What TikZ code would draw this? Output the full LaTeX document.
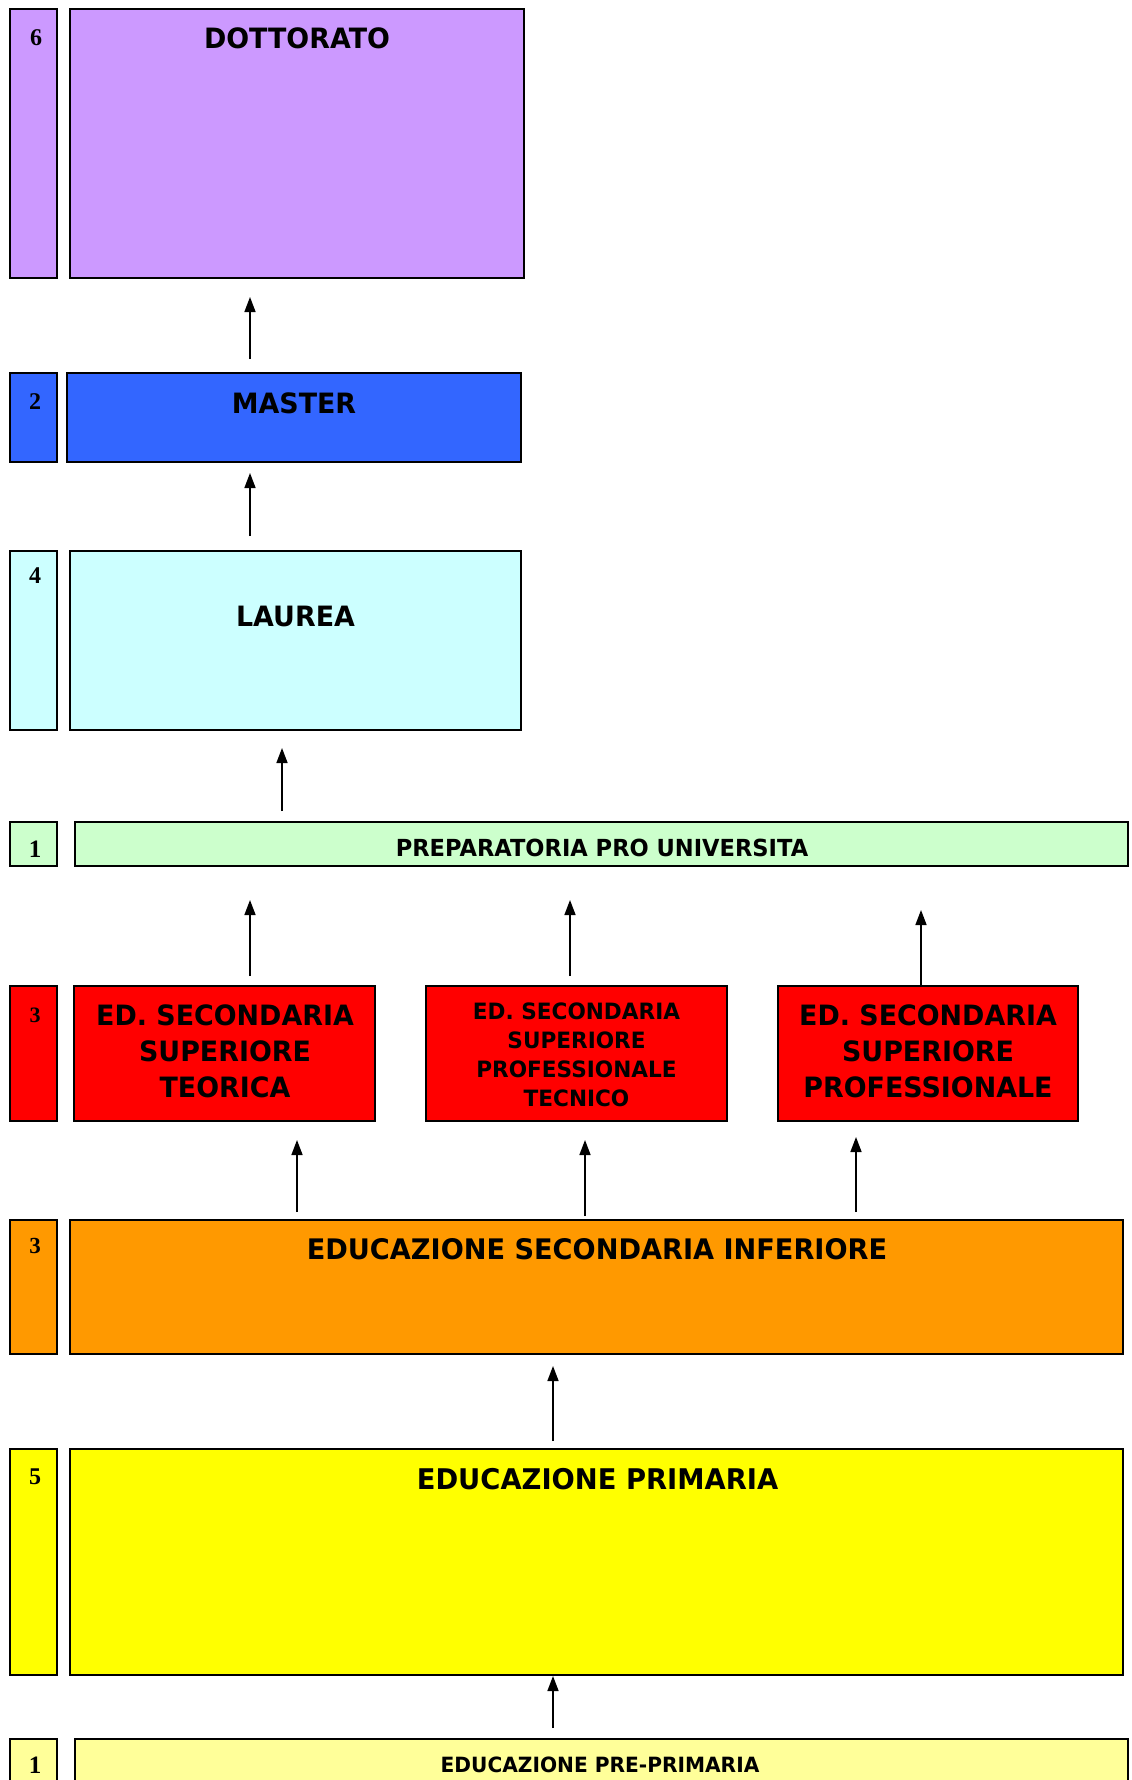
\documentclass[tikz,border=0pt]{standalone}
\usepackage{fontspec}
\setmainfont{DejaVu Sans}[FakeStretch=0.96]
\newfontfamily\numfont{Liberation Serif}
\usetikzlibrary{arrows.meta}
\definecolor{cdott}{HTML}{CC99FF}
\definecolor{cmast}{HTML}{3366FF}
\definecolor{claur}{HTML}{CCFFFF}
\definecolor{cprep}{HTML}{CCFFCC}
\definecolor{cred}{HTML}{FF0000}
\definecolor{cinf}{HTML}{FF9900}
\definecolor{cprim}{HTML}{FFFF00}
\definecolor{cpre}{HTML}{FFFF99}
\begin{document}
\begin{tikzpicture}[x=1pt,y=-1pt,
  box/.style={draw=black, line width=2pt, outer sep=0pt, inner sep=0pt, anchor=north west},
  arr/.style={-{Triangle[length=15pt,width=11pt]}, line width=1.5pt},
  head/.style={font=\fontsize{28}{36}\selectfont\bfseries, anchor=base, inner sep=0pt},
  headml/.style={font=\fontsize{28}{36}\selectfont\bfseries, align=center, inner sep=0pt},
  headsm/.style={font=\fontsize{22.5}{29}\selectfont\bfseries, align=center, inner sep=0pt},
  numb/.style={font=\numfont\bfseries\fontsize{24}{24}\selectfont, anchor=base, inner sep=0pt}
]
\fill[white] (0,0) rectangle (1132,1780);
\useasboundingbox (0,0) rectangle (1132,1780);

% column coordinates for arrows
\coordinate (cA) at (250,0);
\coordinate (cB) at (282,0);
\coordinate (cC) at (570,0);
\coordinate (cD) at (921,0);
\coordinate (cE) at (297,0);
\coordinate (cF) at (585,0);
\coordinate (cG) at (856,0);
\coordinate (cH) at (553,0);

% left duration boxes
\node[box, fill=cdott, minimum width=47pt, minimum height=269pt] (y6) at (10,9) {};
\node[box, fill=cmast, minimum width=47pt, minimum height=89pt] (y2) at (10,373) {};
\node[box, fill=claur, minimum width=47pt, minimum height=179pt] (y4) at (10,551) {};
\node[box, fill=cprep, minimum width=47pt, minimum height=44pt] (y1a) at (10,822) {};
\node[box, fill=cred, minimum width=47pt, minimum height=135pt] (y3a) at (10,986) {};
\node[box, fill=cinf, minimum width=47pt, minimum height=134pt] (y3b) at (10,1220) {};
\node[box, fill=cprim, minimum width=47pt, minimum height=226pt] (y5) at (10,1449) {};
\node[box, fill=cpre, minimum width=47pt, minimum height=100pt] (y1b) at (10,1739) {};

% main boxes
\node[box, fill=cdott, minimum width=454pt, minimum height=269pt] (dott) at (70,9) {};
\node[box, fill=cmast, minimum width=454pt, minimum height=89pt] (mast) at (67,373) {};
\node[box, fill=claur, minimum width=451pt, minimum height=179pt] (laur) at (70,551) {};
\node[box, fill=cprep, minimum width=1053pt, minimum height=44pt] (prep) at (75,822) {};
\node[box, fill=cred, minimum width=301pt, minimum height=135pt] (red1) at (74,986) {};
\node[box, fill=cred, minimum width=301pt, minimum height=135pt] (red2) at (426,986) {};
\node[box, fill=cred, minimum width=300pt, minimum height=135pt] (red3) at (778,986) {};
\node[box, fill=cinf, minimum width=1053pt, minimum height=134pt] (inf) at (70,1220) {};
\node[box, fill=cprim, minimum width=1053pt, minimum height=226pt] (prim) at (70,1449) {};
\node[box, fill=cpre, minimum width=1053pt, minimum height=100pt] (pre) at (75,1739) {};

% duration numbers
\node[numb] (n6) at (36,45) {6};
\node[numb] (n2) at (35,409) {2};
\node[numb] (n4) at (35,583) {4};
\node[numb, font=\numfont\bfseries\fontsize{25}{25}\selectfont] (n1a) at (35,857) {1};
\node[numb, font=\numfont\bfseries\fontsize{22}{22}\selectfont] (n3a) at (35,1022) {3};
\node[numb, font=\numfont\bfseries\fontsize{23}{23}\selectfont] (n3b) at (35,1253) {3};
\node[numb] (n5) at (35,1484) {5};
\node[numb, font=\numfont\bfseries\fontsize{25}{25}\selectfont] (n1b) at (35,1773) {1};

% titles
\node[head] (tdott) at (297,48) {DOTTORATO};
\node[head] (tmast) at (294,413) {MASTER};
\node[head] (tlaur) at (295.5,626) {LAUREA};
\node[head, font=\fontsize{23.5}{28}\selectfont\bfseries] (tprep) at (602,856) {PREPARATORIA PRO UNIVERSITA};
\node[headml] (tred1) at (225,1051) {ED. SECONDARIA\\SUPERIORE\\TEORICA};
\node[headsm] (tred2) at (576.5,1055) {ED. SECONDARIA\\SUPERIORE\\PROFESSIONALE\\TECNICO};
\node[headml] (tred3) at (928,1051) {ED. SECONDARIA\\SUPERIORE\\PROFESSIONALE};
\node[head, font=\fontsize{28.3}{36}\selectfont\bfseries] (tinf) at (597,1259) {EDUCAZIONE SECONDARIA INFERIORE};
\node[head, font=\fontsize{28.5}{36}\selectfont\bfseries] (tprim) at (597.5,1489) {EDUCAZIONE PRIMARIA};
\node[head, font=\fontsize{21}{26}\selectfont\bfseries] (tpre) at (600,1772) {EDUCAZIONE PRE-PRIMARIA};

% arrows
\draw[arr, shorten <=14pt, shorten >=19pt] (mast.north -| cA) -- (dott.south -| cA);
\draw[arr, shorten <=15pt, shorten >=11pt] (laur.north -| cA) -- (mast.south -| cA);
\draw[arr, shorten <=11pt, shorten >=18pt] (prep.north -| cB) -- (laur.south -| cB);
\draw[arr, shorten <=10pt, shorten >=34pt] (red1.north -| cA) -- (prep.south -| cA);
\draw[arr, shorten <=10pt, shorten >=34pt] (red2.north -| cC) -- (prep.south -| cC);
\draw[arr, shorten <=0pt, shorten >=44pt] (red3.north -| cD) -- (prep.south -| cD);
\draw[arr, shorten <=8pt, shorten >=19pt] (inf.north -| cE) -- (red1.south -| cE);
\draw[arr, shorten <=4pt, shorten >=19pt] (inf.north -| cF) -- (red2.south -| cF);
\draw[arr, shorten <=8pt, shorten >=16pt] (inf.north -| cG) -- (red3.south -| cG);
\draw[arr, shorten <=8pt, shorten >=12pt] (prim.north -| cH) -- (inf.south -| cH);
\draw[arr, shorten <=11pt, shorten >=1pt] (pre.north -| cH) -- (prim.south -| cH);
\end{tikzpicture}
\end{document}
